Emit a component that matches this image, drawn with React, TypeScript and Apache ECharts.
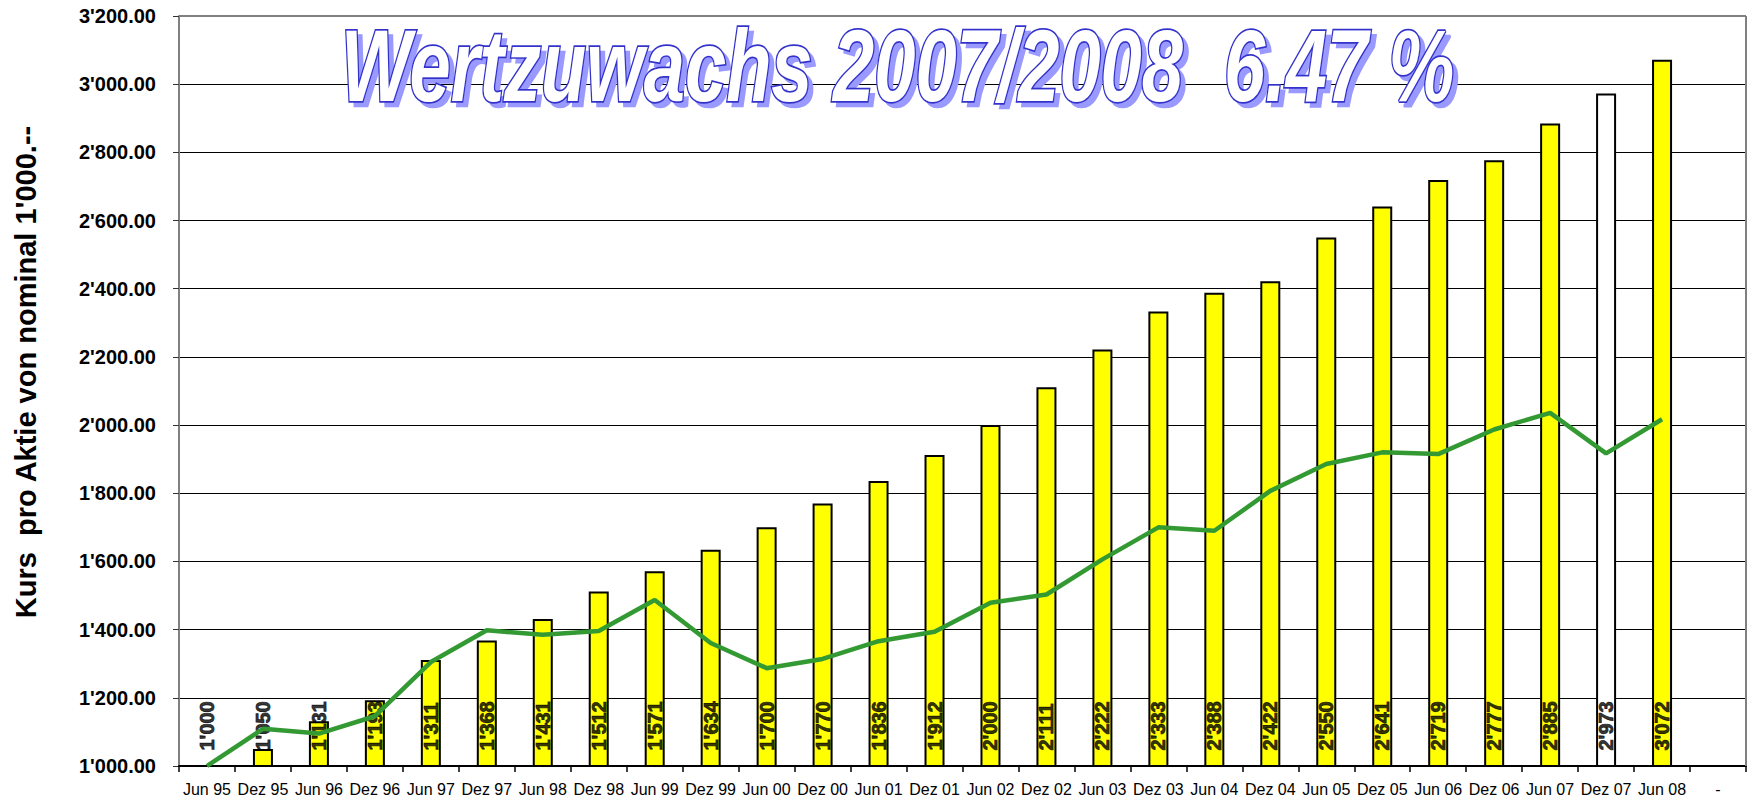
import React, { useEffect, useRef } from "react";
import * as echarts from "echarts";

const categories = [
  "Jun 95", "Dez 95", "Jun 96", "Dez 96", "Jun 97", "Dez 97", "Jun 98", "Dez 98",
  "Jun 99", "Dez 99", "Jun 00", "Dez 00", "Jun 01", "Dez 01", "Jun 02", "Dez 02",
  "Jun 03", "Dez 03", "Jun 04", "Dez 04", "Jun 05", "Dez 05", "Jun 06", "Dez 06",
  "Jun 07", "Dez 07", "Jun 08", "-",
];

const kursValues = [
  1000, 1050, 1131, 1193, 1311, 1368, 1431, 1512, 1571, 1634, 1700, 1770, 1836, 1912,
  2000, 2111, 2222, 2333, 2388, 2422, 2550, 2641, 2719, 2777, 2885, 2973, 3072,
];

const lineValues = [
  1000, 1109, 1095, 1146, 1305, 1398, 1385, 1396, 1487, 1361, 1287, 1314, 1366, 1394,
  1479, 1503, 1606, 1700, 1690, 1807, 1886, 1920, 1915, 1987, 2036, 1917, 2017,
];

const yMin = 1000;
const yMax = 3200;
const yStep = 200;

const whiteBarCategory = "Dez 07";
const titleText = "Wertzuwachs 2007/2008  6.47 %";
const yAxisTitle = "Kurs  pro Aktie von nominal 1'000.--";

const FONT = '"Liberation Sans", Arial, sans-serif';

function withApostrophes(n: number): string {
  const s = Math.round(n).toString();
  return s.replace(/\B(?=(\d{3})+(?!\d))/g, "'");
}

export default function App() {
  const ref = useRef<HTMLDivElement>(null);

  useEffect(() => {
    if (!ref.current) return;
    const chart = echarts.init(ref.current, null, { renderer: "svg" });

    const gridLeft = 179;
    const gridTop = 16;
    const gridRight = 5;
    const gridBottom = 37;
    const W = 1751;
    const H = 803;
    const plotRight = W - gridRight;
    const plotBottom = H - gridBottom;

    const barData = kursValues.map((v, i) => ({
      value: v,
      itemStyle: {
        color: categories[i] === whiteBarCategory ? "#ffffff" : "#ffff00",
      },
    }));

    // value labels sit on the baseline of each bar
    const labelData = kursValues.map((v, i) => [i, yMin, v]);

    const titleStyle = {
      text: titleText,
      fontFamily: FONT,
      fontSize: 74,
      fontWeight: "bold",
      fontStyle: "italic",
      align: "left",
      verticalAlign: "middle",
    };

    chart.setOption({
      animation: false,
      backgroundColor: "#ffffff",
      grid: {
        left: gridLeft,
        right: gridRight,
        top: gridTop,
        bottom: gridBottom,
        containLabel: false,
      },
      xAxis: {
        type: "category",
        data: categories,
        boundaryGap: true,
        axisLine: { show: true, lineStyle: { color: "#000", width: 2 } },
        axisTick: { show: true, length: 6, lineStyle: { color: "#000", width: 1.5 } },
        axisLabel: {
          interval: 0,
          margin: 15,
          color: "#000",
          fontFamily: FONT,
          fontSize: 16,
        },
        splitLine: { show: false },
      },
      yAxis: {
        type: "value",
        min: yMin,
        max: yMax,
        interval: yStep,
        axisLine: { show: true, lineStyle: { color: "#808080", width: 2 } },
        axisTick: { show: true, length: 6, lineStyle: { color: "#333", width: 1 } },
        axisLabel: {
          margin: 23,
          color: "#000",
          fontFamily: FONT,
          fontSize: 20,
          fontWeight: "bold",
          formatter: (v: number) => withApostrophes(v) + ".00",
        },
        splitLine: { show: true, lineStyle: { color: "#000", width: 1 } },
      },
      graphic: [
        {
          type: "line",
          z: 100,
          shape: { x1: gridLeft, y1: gridTop, x2: plotRight, y2: gridTop },
          style: { stroke: "#808080", lineWidth: 2 },
        },
        {
          type: "line",
          z: 100,
          shape: { x1: plotRight, y1: gridTop, x2: plotRight, y2: plotBottom },
          style: { stroke: "#808080", lineWidth: 2 },
        },
        {
          type: "text",
          z: 50,
          x: 26,
          y: 372,
          rotation: Math.PI / 2,
          style: {
            text: yAxisTitle,
            fontFamily: FONT,
            fontSize: 29,
            fontWeight: "bold",
            fill: "#000",
            align: "center",
            verticalAlign: "middle",
          },
        },
        {
          type: "text",
          z: 50,
          x: 346,
          y: 71,
          scaleY: 1.37,
          style: { ...titleStyle, fill: "#9999ff", stroke: "#9999ff", lineWidth: 2 },
        },
        {
          type: "text",
          z: 51,
          x: 341,
          y: 66,
          scaleY: 1.37,
          style: { ...titleStyle, fill: "#ffffff", stroke: "#3333cc", lineWidth: 2.5 },
        },
      ],
      series: [
        {
          type: "bar",
          data: barData,
          barWidth: 20,
          z: 2,
          itemStyle: { borderColor: "#000", borderWidth: 2 },
        },
        {
          type: "scatter",
          data: labelData,
          z: 3,
          symbolSize: 1,
          itemStyle: { color: "rgba(0,0,0,0)" },
          silent: true,
          label: {
            show: true,
            position: "top",
            distance: 15,
            rotate: 90,
            align: "left",
            verticalAlign: "middle",
            color: "#000",
            fontFamily: FONT,
            fontSize: 20,
            fontWeight: 700,
            textBorderColor: "#000",
            textBorderWidth: 0.8,
            formatter: (p: any) => withApostrophes(p.value[2]),
          },
        },
        {
          type: "line",
          data: lineValues,
          z: 5,
          symbol: "none",
          lineStyle: { color: "#339933", width: 4.5 },
        },
      ],
    });

    return () => chart.dispose();
  }, []);

  return (
    <div
      ref={ref}
      style={{ position: "fixed", left: 0, top: 0, width: 1751, height: 803 }}
    />
  );
}
